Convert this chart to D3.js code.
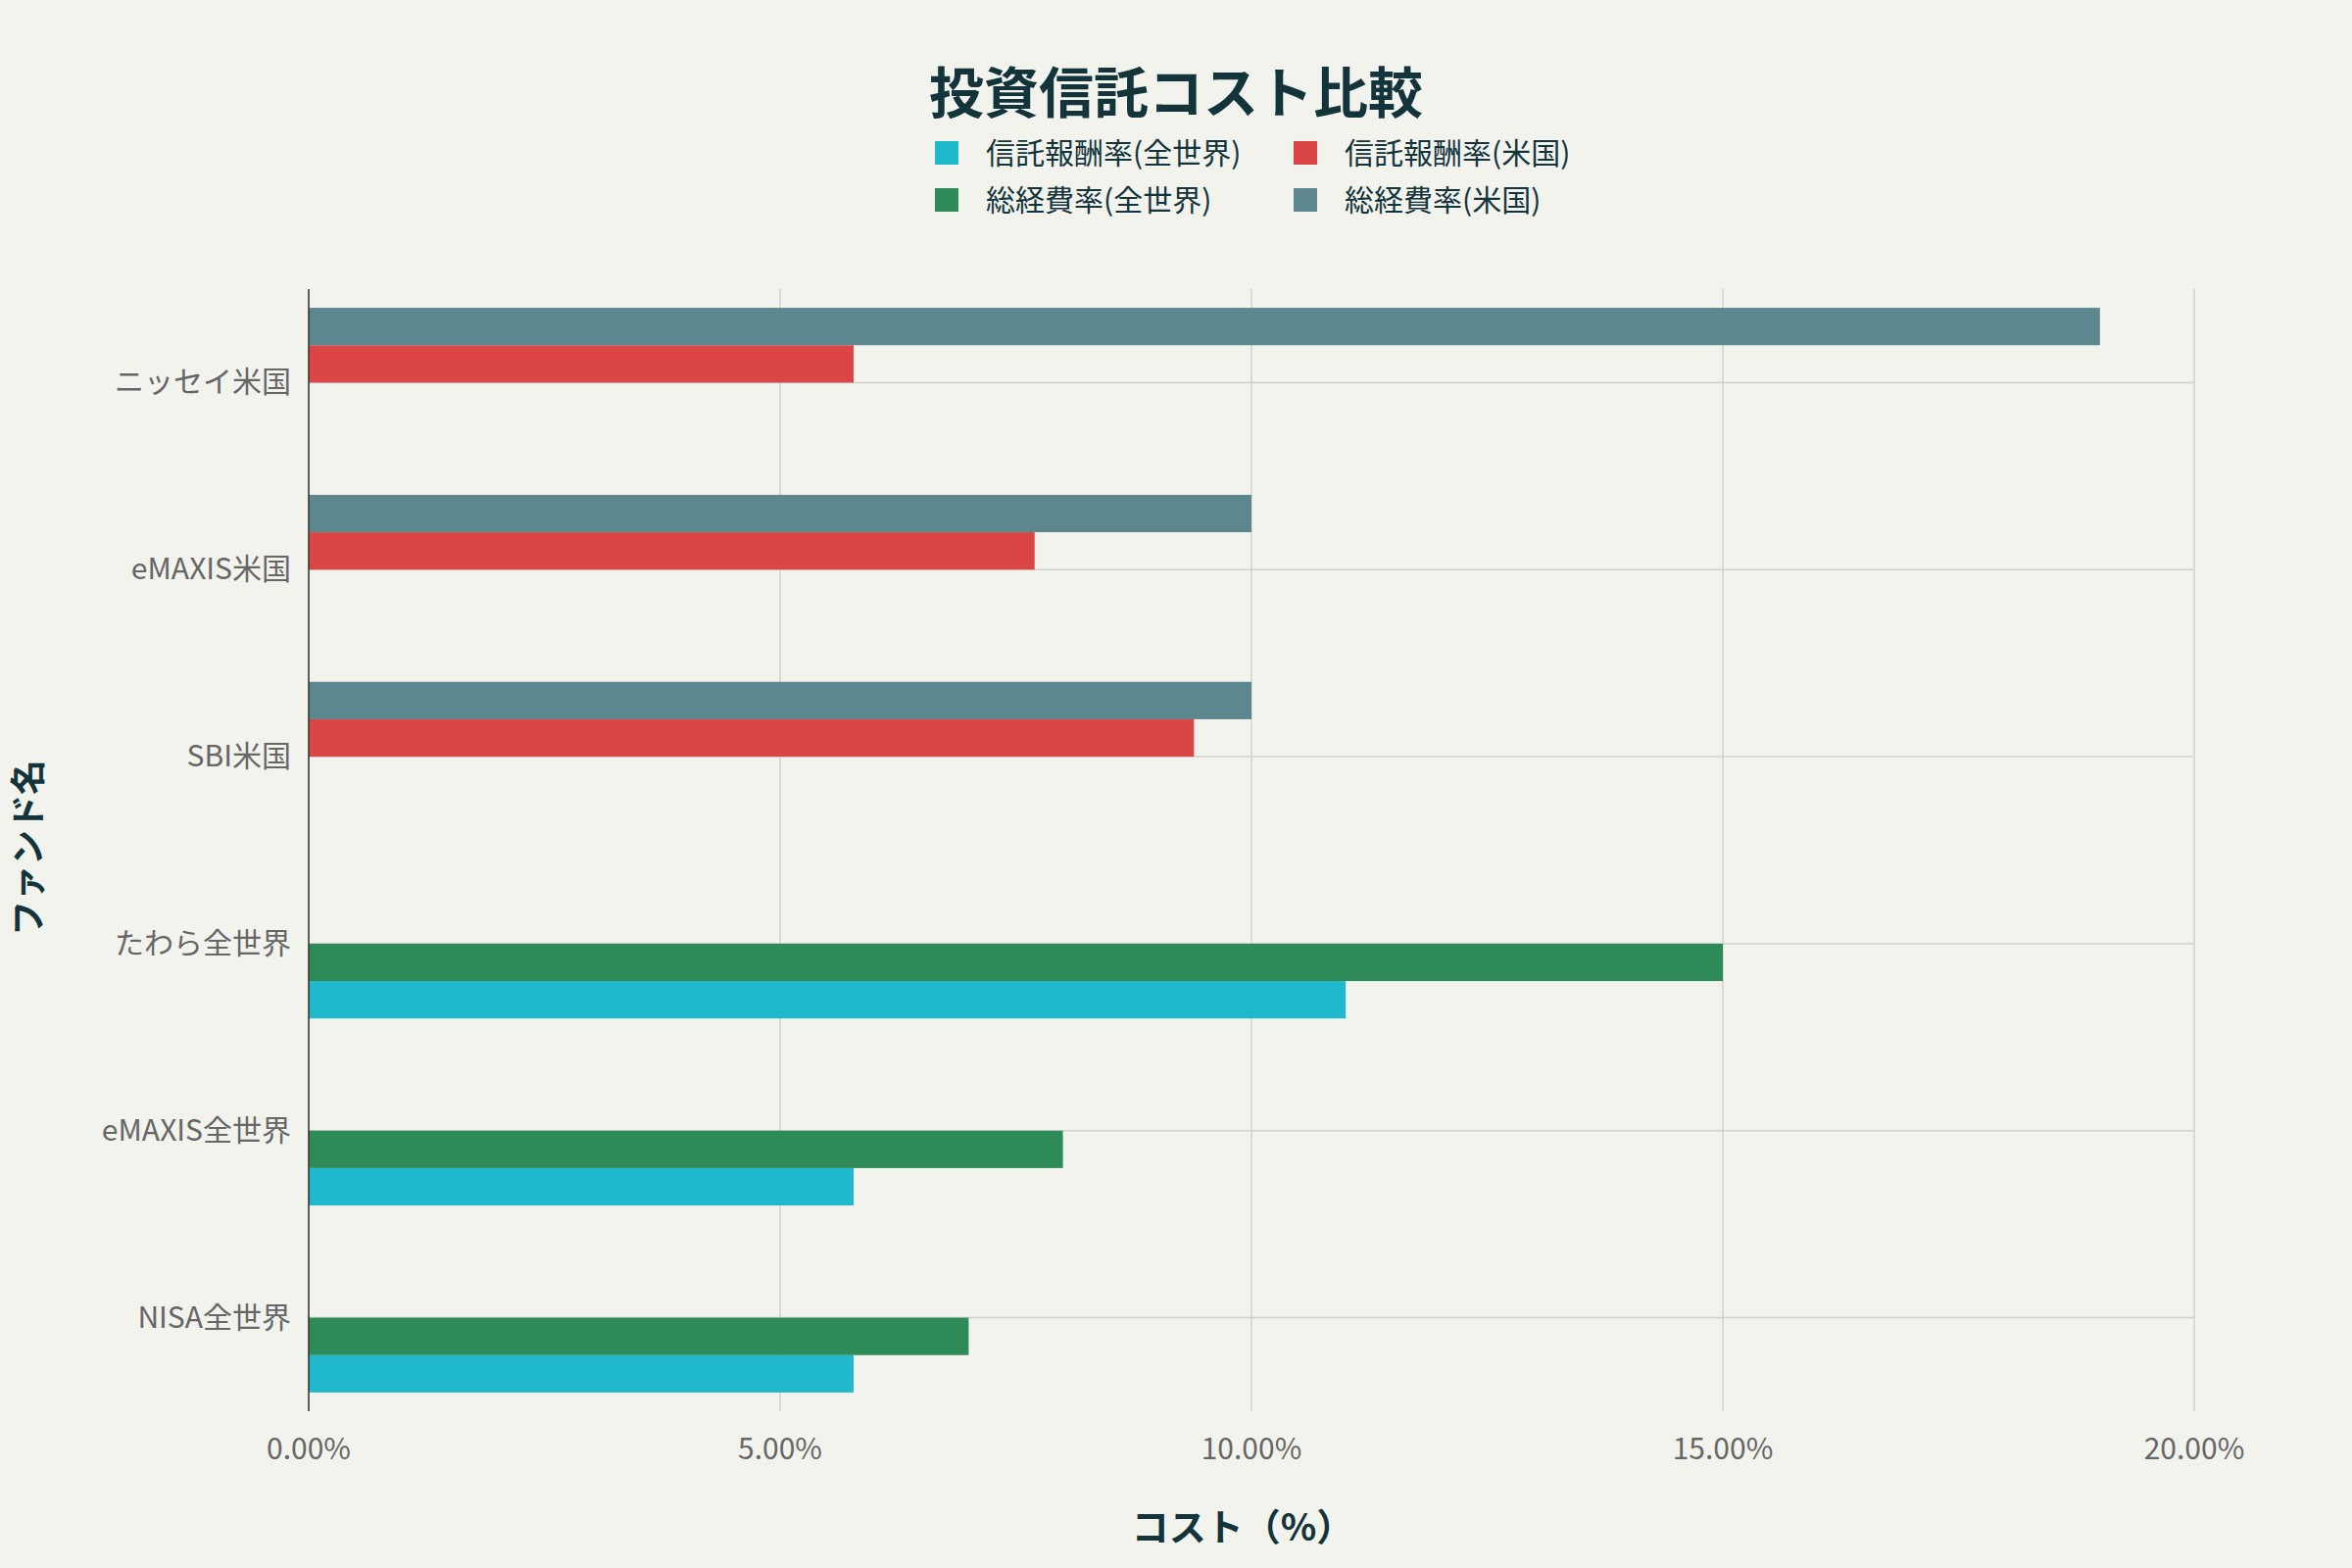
<!DOCTYPE html>
<html><head><meta charset="utf-8">
<script src="https://cdn.jsdelivr.net/npm/d3@7"></script>
<style>body{margin:0;background:#f3f3ee}</style></head>
<body><svg id="c" width="2400" height="1600"></svg>
<script>
const categories=["ニッセイ米国","eMAXIS米国","SBI米国","たわら全世界","eMAXIS全世界","NISA全世界"];
const seriesNames=["信託報酬率(全世界)","信託報酬率(米国)","総経費率(全世界)","総経費率(米国)"];
const seriesColors=["#1fb8cd","#db4545","#2e8b57","#5d878f"];
const seriesSlot=[0,2,1,3];
const trustWorld=[null,null,null,11.0,5.78,5.78];
const trustUS=[5.78,7.7,9.39,null,null,null];
const totalWorld=[null,null,null,15.0,8.0,7.0];
const totalUS=[19.0,10.0,10.0,null,null,null];
const seriesValues=[trustWorld,trustUS,totalWorld,totalUS];
const xTicks=[0,5,10,15,20];

const svg=d3.select("#c");
const font="'Noto Sans CJK JP','Noto Sans',sans-serif";
svg.append("rect").attr("width",2400).attr("height",1600).attr("fill","#f3f3ee");
const L=315,R=2239,T=295,B=1440;
const x=d3.scaleLinear().domain([0,20]).range([L,R]);
const y=d3.scaleBand().domain(categories).range([T,B]).padding(0);
const step=y.step(), bh=step*0.2;
const cy=c=>y(c)+step/2;

svg.append("g").selectAll("line").data(xTicks).join("line")
 .attr("x1",d=>x(d)).attr("x2",d=>x(d)).attr("y1",T).attr("y2",B)
 .attr("stroke","#d0d0cc").attr("stroke-width",1.5);
svg.append("g").selectAll("line").data(categories).join("line")
 .attr("x1",L).attr("x2",R).attr("y1",cy).attr("y2",cy)
 .attr("stroke","#d0d0cc").attr("stroke-width",1.5);

seriesValues.forEach((vals,si)=>{
  const slot=seriesSlot[si];
  svg.append("g").selectAll("rect").data(categories.map((c,i)=>({c,v:vals[i]})).filter(d=>d.v!=null))
   .join("rect").attr("x",x(0)).attr("width",d=>x(d.v)-x(0))
   .attr("y",d=>cy(d.c)+(1-slot)*bh).attr("height",bh)
   .attr("fill",seriesColors[si]);
});

svg.append("line").attr("x1",L).attr("x2",L).attr("y1",T).attr("y2",B).attr("stroke","#333").attr("stroke-width",1.5);

svg.append("g").selectAll("text").data(xTicks).join("text")
 .attr("x",d=>x(d)).attr("y",1489).attr("text-anchor","middle")
 .attr("font-family",font).attr("font-size",30).attr("fill","#666")
 .text(d=>d3.format(".2f")(d)+"%");
svg.append("g").selectAll("text").data(categories).join("text")
 .attr("x",297).attr("y",d=>cy(d)+10).attr("text-anchor","end")
 .attr("font-family",font).attr("font-size",30).attr("fill","#666").text(d=>d);

svg.append("text").attr("x",1200).attr("y",115).attr("text-anchor","middle")
 .attr("font-family",font).attr("font-weight","bold").attr("font-size",56).attr("fill","#13343b").text("投資信託コスト比較");
svg.append("text").attr("x",1268).attr("y",1572).attr("text-anchor","middle")
 .attr("font-family",font).attr("font-weight","bold").attr("font-size",38).attr("fill","#13343b").text("コスト（%）");
svg.append("text").attr("transform","translate(42,865) rotate(-90)").attr("text-anchor","middle")
 .attr("font-family",font).attr("font-weight","bold").attr("font-size",36).attr("fill","#13343b").text("ファンド名");

const lg=[[0,966,156],[1,1332,156],[2,966,204],[3,1332,204]];
lg.forEach(([si,lx,ly])=>{
  svg.append("rect").attr("x",lx-12).attr("y",ly-12).attr("width",24).attr("height",24).attr("fill",seriesColors[si]);
  svg.append("text").attr("x",lx+40).attr("y",ly+11).attr("font-family",font).attr("font-size",30).attr("fill","#13343b").text(seriesNames[si]);
});
</script></body></html>
